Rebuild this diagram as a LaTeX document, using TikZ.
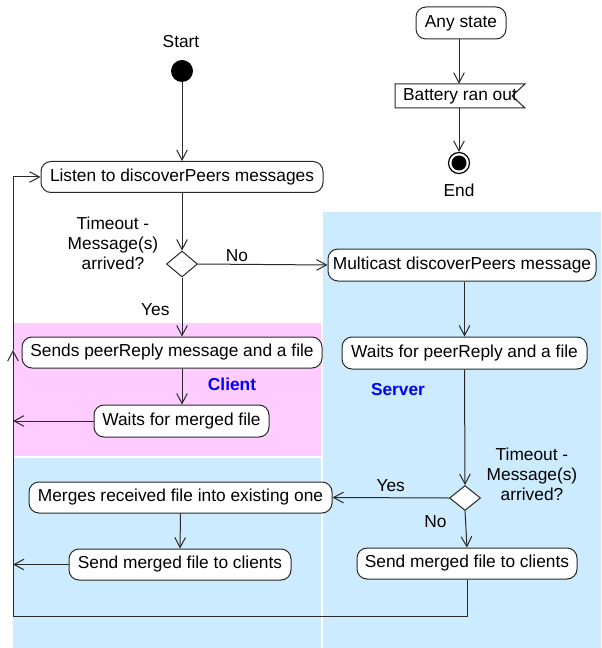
\documentclass[tikz,border=0pt]{standalone}
\usepackage{fontspec}
\setmainfont{Liberation Sans}
\usetikzlibrary{arrows.meta,shapes.geometric}
\newlength\pxu
\setlength\pxu{0.75pt}
\definecolor{clientpink}{RGB}{255,204,255}
\definecolor{serverblue}{RGB}{204,235,255}
\definecolor{lanelabel}{RGB}{0,0,255}
\definecolor{edgegray}{RGB}{40,40,40}
\begin{document}
\begin{tikzpicture}[x=0.75pt,y=-0.75pt,
  every node/.style={font=\fontsize{13pt}{15pt}\selectfont, inner sep=0pt},
  act/.style={draw=edgegray, fill=white, rounded corners=7.5pt, line width=0.75pt},
  dec/.style={draw=edgegray, fill=white, diamond, line width=0.75pt, minimum width=31\pxu, minimum height=26\pxu},
  arr/.style={draw=edgegray, line width=0.75pt, -{Straight Barb[length=7.5pt,width=8pt,line width=0.75pt]}},
  ln/.style={draw=edgegray, line width=0.75pt},
  lbl/.style={align=center, font=\fontsize{13pt}{15pt}\selectfont},
  lane/.style={font=\fontsize{13pt}{15pt}\selectfont\bfseries, text=lanelabel}
]
\useasboundingbox (0,0) rectangle (601,648);
% swimlane backgrounds
\fill[clientpink] (13,323) rectangle (320.5,456);
\fill[serverblue] (13,458) rectangle (320.5,648);
\fill[serverblue] (322.5,212.5) rectangle (601,648);

% start / end
\node (startlbl) at (181,42) {Start};
\node[circle, fill=black, minimum size=22\pxu] (start) at (182,71) {};
\node[act, minimum width=90\pxu, minimum height=32\pxu] (any) at (461,23) {Any state};
\node[minimum width=130\pxu, minimum height=24\pxu] (battery) at (460,96) {};
\draw[ln, fill=white] (395,84) -- (525,84) -- (512,96) -- (525,108) -- (395,108) -- cycle;
\node at (460,96) {Battery ran out};
\node[circle, draw=black, line width=0.9pt, fill=white, minimum size=21\pxu] (end) at (459,163) {};
\fill[black] (end.center) circle (7.5);
\node (endlbl) at (459,190) {End};

% activities
\node[act, minimum width=282\pxu, minimum height=31\pxu] (listen) at (182,177) {Listen to discoverPeers messages};
\node[dec] (d1) at (182,264) {};
\node[lbl] (d1lbl) at (113,243) {Timeout -\\Message(s)\\arrived?};
\node[act, minimum width=268\pxu, minimum height=32\pxu] (multi) at (462,265) {Multicast discoverPeers message};
\node[act, minimum width=245\pxu, minimum height=32\pxu] (wpr) at (464.5,353) {Waits for peerReply and a file};
\node[act, minimum width=300\pxu, minimum height=31\pxu] (sends) at (172,352.5) {Sends peerReply message and a file};
\node[act, minimum width=175\pxu, minimum height=32\pxu] (wmf) at (181.5,421) {Waits for merged file};
\node[dec, minimum height=25\pxu] (d2) at (465,498) {};
\node[lbl] (d2lbl) at (532,474) {Timeout -\\Message(s)\\arrived?};
\node[act, minimum width=303\pxu, minimum height=31\pxu] (merge) at (180.5,497.5) {Merges received file into existing one};
\node[act, minimum width=222\pxu, minimum height=31\pxu] (sendl) at (180,564.5) {Send merged file to clients};
\node[act, minimum width=220\pxu, minimum height=31\pxu] (sendr) at (467,563.5) {Send merged file to clients};

% lane labels
\node[lane] (client) at (232,384) {Client};
\node[lane] (server) at (398,390) {Server};

% loop coordinates
\coordinate (lb) at (13,616);
\coordinate (lup) at (13,350);
\coordinate (ltop) at (13,177);
\coordinate (rb) at (467,616);

% connectors
\draw[arr] (start) -- (listen.north -| start);
\draw[arr] (listen.south -| d1) -- (d1.north);
\draw[arr] (d1.east) -- node[above, pos=0.3, yshift=1.5pt] {No} (multi.west);
\draw[arr] (d1.south) -- node[left, pos=0.55, xshift=-9pt] {Yes} (d1.south |- sends.north);
\draw[arr] (d1.south |- sends.south) -- (wmf.north -| d1);
\draw[arr] (wmf.west) -- (wmf.west -| ltop);
\draw[arr] (multi.south -| wpr) -- (wpr.north);
\draw[arr] (wpr.south) -- (d2.north);
\draw[arr] (d2.west) -- node[above, pos=0.5, yshift=4.5pt] {Yes} (merge.east);
\draw[arr] (d2.south) -- node[left, pos=0.3, xshift=-14pt] {No} (sendr.north);
\draw[arr] (merge.south) -- (sendl.north);
\draw[arr] (sendl.west) -- (sendl.west -| lb);
\draw[arr] (sendr.south) -- (rb) -- (lb) -- (lup);
\draw[arr] (lup) -- (ltop) -- (listen.west);
\draw[arr] (any.south -| end) -- (battery.north -| end);
\draw[arr] (battery.south -| end) -- (end.north);
\end{tikzpicture}
\end{document}
